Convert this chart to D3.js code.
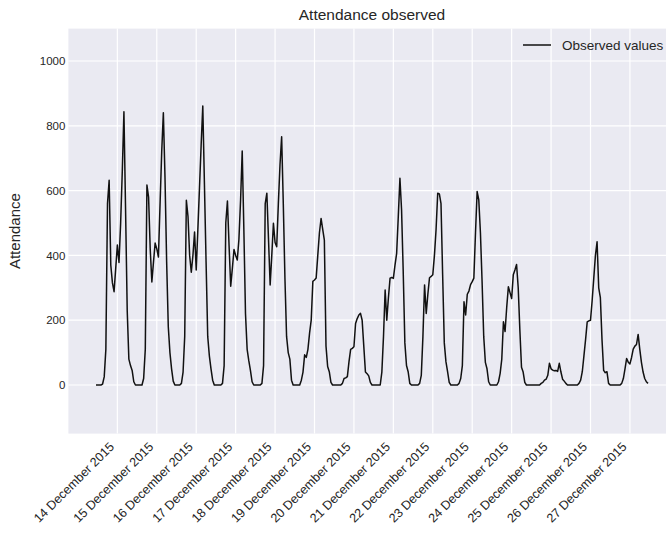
<!DOCTYPE html>
<html>
<head>
<meta charset="utf-8">
<script src="https://cdn.jsdelivr.net/npm/d3@7/dist/d3.min.js"></script>
<style>
  body { margin: 0; background: #fff; }
  svg { display: block; font-family: "Liberation Sans", Arial, sans-serif; }
</style>
</head>
<body>
<svg id="chart" width="666" height="534"></svg>
<script>
/* global d3 */

// hourly counts, each block runs from 11:00 on that day to 10:00 the next day
const startTime = new Date(Date.UTC(2015, 11, 13, 11));
const dec13 = [0, 0, 0, 0, 3, 25, 110, 560, 632, 370, 315, 288, 360, 432, 378, 500, 660, 843, 540, 230, 80, 60, 45, 10];
const dec14 = [0, 0, 0, 0, 0, 20, 110, 617, 580, 420, 318, 380, 438, 420, 395, 560, 720, 840, 640, 380, 180, 100, 50, 12];
const dec15 = [0, 0, 0, 0, 5, 40, 150, 570, 520, 400, 348, 400, 472, 355, 480, 610, 740, 861, 620, 380, 150, 90, 50, 15];
const dec16 = [0, 0, 0, 0, 0, 5, 60, 500, 568, 430, 305, 360, 418, 400, 386, 450, 570, 722, 480, 220, 110, 75, 45, 10];
const dec17 = [0, 0, 0, 0, 0, 5, 60, 560, 592, 450, 309, 400, 499, 440, 427, 560, 680, 766, 560, 330, 150, 100, 80, 15];
const dec18 = [0, 0, 0, 0, 0, 15, 40, 93, 85, 110, 160, 200, 320, 324, 330, 400, 470, 514, 480, 447, 120, 57, 41, 8];
const dec19 = [0, 0, 0, 0, 0, 0, 5, 20, 22, 26, 72, 110, 113, 118, 190, 205, 216, 221, 200, 120, 40, 35, 28, 8];
const dec20 = [0, 0, 0, 0, 0, 0, 40, 150, 293, 200, 270, 330, 332, 329, 370, 406, 520, 638, 540, 350, 130, 60, 41, 5];
const dec21 = [0, 0, 0, 0, 0, 5, 30, 150, 309, 221, 280, 331, 335, 340, 400, 480, 592, 590, 560, 340, 130, 72, 41, 8];
const dec22 = [0, 0, 0, 0, 0, 5, 20, 60, 257, 216, 280, 290, 310, 319, 330, 470, 597, 571, 470, 320, 150, 70, 50, 10];
const dec23 = [0, 0, 0, 0, 0, 10, 36, 80, 195, 165, 240, 303, 285, 267, 340, 355, 372, 300, 170, 55, 40, 8, 0, 0];
const dec24 = [0, 0, 0, 0, 0, 0, 0, 5, 8, 15, 18, 30, 67, 50, 46, 44, 45, 42, 67, 40, 18, 12, 5, 0];
const dec25 = [0, 0, 0, 0, 0, 0, 5, 15, 41, 90, 140, 195, 198, 200, 260, 330, 400, 442, 300, 270, 140, 45, 38, 41];
const dec26 = [5, 0, 0, 0, 0, 0, 0, 0, 5, 20, 50, 82, 70, 65, 85, 111, 120, 125, 156, 110, 70, 40, 20, 10];
const dec27 = [5];

const yTicks = [0, 200, 400, 600, 800, 1000];
const xTicks = d3.utcDay.range(new Date(Date.UTC(2015, 11, 14)), new Date(Date.UTC(2015, 11, 28)));

const attendance = [].concat(dec13, dec14, dec15, dec16, dec17, dec18, dec19,
    dec20, dec21, dec22, dec23, dec24, dec25, dec26, dec27);
const observed = attendance.map((v, i) => ({ date: d3.utcHour.offset(startTime, i), value: v }));

// SVG setting
const svg = d3.select("#chart");
const plotLeft = 68.4, plotRight = 675.6, plotTop = 28.6, plotBottom = 433.6;

const t0 = observed[0].date, t1 = observed[observed.length - 1].date;
const pad = (t1 - t0) * 0.05;

const x = d3.scaleUtc()
    .domain([new Date(+t0 - pad), new Date(+t1 + pad)])
    .range([plotLeft, plotRight]);

const y = d3.scaleLinear()
    .domain([-150, 1100])
    .range([plotBottom, plotTop]);

svg.append("rect")
    .attr("x", plotLeft)
    .attr("y", plotTop)
    .attr("width", plotRight - plotLeft)
    .attr("height", plotBottom - plotTop)
    .attr("fill", "#eaeaf2");

// grid
svg.append("g")
    .selectAll("line")
    .data(yTicks)
    .enter()
    .append("line")
    .attr("x1", plotLeft)
    .attr("x2", plotRight)
    .attr("y1", d => y(d))
    .attr("y2", d => y(d))
    .attr("stroke", "#fff")
    .attr("stroke-width", 1.2);

svg.append("g")
    .selectAll("line")
    .data(xTicks)
    .enter()
    .append("line")
    .attr("x1", d => x(d))
    .attr("x2", d => x(d))
    .attr("y1", plotTop)
    .attr("y2", plotBottom)
    .attr("stroke", "#fff")
    .attr("stroke-width", 1.2);

// axes
const yAxis = svg.append("g")
    .attr("transform", `translate(${plotLeft},0)`)
    .call(d3.axisLeft(y).tickValues(yTicks).tickFormat(d3.format("d")).tickSize(0).tickPadding(3));
yAxis.select(".domain").remove();
yAxis.selectAll("text")
    .attr("font-size", 11.5)
    .attr("fill", "#262626")
    .style("font-family", "Liberation Sans, Arial, sans-serif");

const fmt = d3.utcFormat("%-d %B %Y");
const xAxis = svg.append("g")
    .attr("transform", `translate(0,${plotBottom})`)
    .call(d3.axisBottom(x).tickValues(xTicks).tickFormat(fmt).tickSize(0));
xAxis.select(".domain").remove();
xAxis.selectAll("text")
    .attr("font-size", 12.6)
    .attr("fill", "#262626")
    .style("font-family", "Liberation Sans, Arial, sans-serif")
    .attr("text-anchor", "end")
    .attr("dy", null)
    .attr("y", 0)
    .attr("transform", "translate(-3,14) rotate(-45)");

// line
const line = d3.line()
    .x(d => x(d.date))
    .y(d => y(d.value));

svg.append("path")
    .datum(observed)
    .attr("d", line)
    .attr("fill", "none")
    .attr("stroke", "#111")
    .attr("stroke-width", 1.5)
    .attr("stroke-linejoin", "round");

// labels
svg.append("text")
    .attr("x", (plotLeft + plotRight) / 2)
    .attr("y", 20)
    .attr("text-anchor", "middle")
    .attr("font-size", 15.5)
    .attr("fill", "#262626")
    .text("Attendance observed");

svg.append("text")
    .attr("transform", `translate(20,${(plotTop + plotBottom) / 2}) rotate(-90)`)
    .attr("text-anchor", "middle")
    .attr("font-size", 15)
    .attr("fill", "#262626")
    .text("Attendance");

// legend
const legend = svg.append("g");
legend.append("line")
    .attr("x1", 523)
    .attr("x2", 551)
    .attr("y1", 45)
    .attr("y2", 45)
    .attr("stroke", "#111")
    .attr("stroke-width", 1.5);
legend.append("text")
    .attr("x", 562)
    .attr("y", 50)
    .attr("font-size", 13.5)
    .attr("fill", "#262626")
    .text("Observed values");
</script>
</body>
</html>
